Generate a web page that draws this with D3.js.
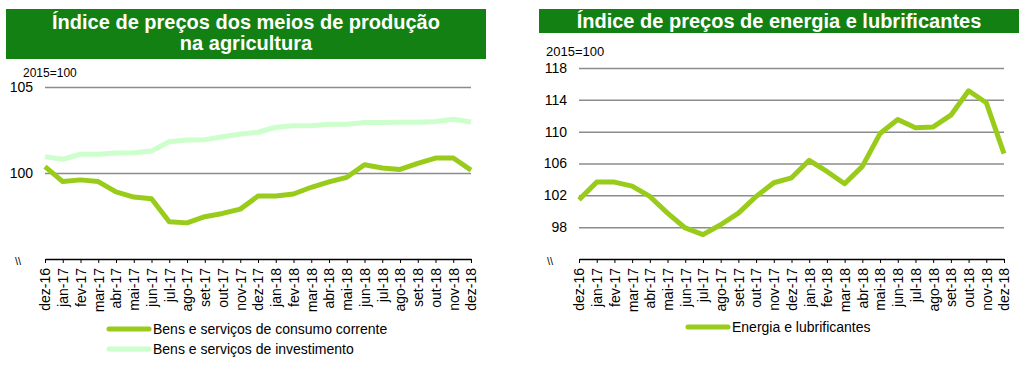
<!DOCTYPE html>
<html lang="pt">
<head>
    <meta charset="UTF-8">
    <title>Índices de preços</title>
    <script src="https://d3js.org/d3.v7.min.js"></script>
    <style>
        body { margin: 0; background: #fff; }
        text { font-family: "Liberation Sans", Arial, sans-serif; }
    </style>
</head>
<body>
    <div id="chart"></div>
    <script>
        var months = ["dez-16", "jan-17", "fev-17", "mar-17", "abr-17", "mai-17", "jun-17", "jul-17", "ago-17",
            "set-17", "out-17", "nov-17", "dez-17", "jan-18", "fev-18", "mar-18", "abr-18", "mai-18", "jun-18",
            "jul-18", "ago-18", "set-18", "out-18", "nov-18", "dez-18"];

        var consumoCorrente = [100.37, 99.5, 99.6, 99.5, 98.9, 98.6, 98.5, 97.17, 97.1, 97.46, 97.65, 97.9, 98.66,
            98.66, 98.78, 99.17, 99.48, 99.75, 100.48, 100.29, 100.21, 100.56, 100.87, 100.87, 100.17];
        var investimento = [100.95, 100.8, 101.09, 101.09, 101.16, 101.18, 101.28, 101.82, 101.92, 101.94, 102.11,
            102.27, 102.37, 102.66, 102.75, 102.75, 102.83, 102.83, 102.93, 102.93, 102.95, 102.95, 103.0, 103.12, 102.97];
        var energia = [101.44, 103.66, 103.66, 103.16, 101.86, 99.76, 97.9, 97.07, 98.3, 99.76, 101.86, 103.58, 104.2,
            106.4, 105.0, 103.46, 105.64, 109.76, 111.53, 110.48, 110.6, 112.07, 115.14, 113.63, 107.24];

        var leftTicks = [100, 105];
        var rightTicks = [98, 102, 106, 110, 114, 118];

        var dark = "#99cc1a", light = "#ccffcc", titleBg = "#138013";

        var svg = d3.select("#chart").append("svg")
            .attr("width", 1025)
            .attr("height", 374);

        function panel(opt) {
            var g = svg.append("g");

            // title box
            g.append("rect")
                .attr("x", opt.box[0]).attr("y", opt.box[1])
                .attr("width", opt.box[2]).attr("height", opt.box[3])
                .attr("fill", titleBg);
            opt.title.forEach(function (t, i) {
                g.append("text")
                    .attr("x", opt.box[0] + opt.box[2] / 2)
                    .attr("y", opt.titleY + i * 21)
                    .attr("text-anchor", "middle")
                    .attr("fill", "#fff")
                    .attr("font-weight", "bold")
                    .attr("font-size", 20)
                    .text(t);
            });

            var x = d3.scalePoint().domain(months).range([opt.x0, opt.x1]);
            var y = d3.scaleLinear().domain(opt.domain).range([opt.yBottom, opt.yTop]);

            g.append("text")
                .attr("x", opt.unitX).attr("y", opt.unitY)
                .attr("font-size", opt.unitSize)
                .text("2015=100");

            // gridlines + y labels
            var yAxis = g.append("g")
                .attr("transform", "translate(" + opt.x0 + ",0)")
                .call(d3.axisLeft(y).tickValues(opt.ticks).tickSize(-(opt.x1 - opt.x0)).tickPadding(12));
            yAxis.select(".domain").remove();
            yAxis.selectAll("line").attr("stroke", "#8c8c8c").attr("stroke-width", 1.5);
            yAxis.selectAll("text").attr("font-size", 14).attr("fill", "#000")
                .attr("font-family", "Liberation Sans, Arial, sans-serif");

            // x axis
            var xAxis = g.append("g")
                .attr("transform", "translate(0," + opt.yBottom + ")")
                .call(d3.axisBottom(x).tickSize(4).tickSizeOuter(0));
            xAxis.select(".domain").attr("stroke", "#000").attr("stroke-width", 1.5);
            xAxis.selectAll("line").attr("stroke", "#000");
            xAxis.selectAll("text")
                .attr("font-size", 14).attr("fill", "#000")
                .attr("font-family", "Liberation Sans, Arial, sans-serif")
                .attr("transform", "rotate(-90)")
                .attr("text-anchor", "end")
                .attr("x", -9).attr("y", 0).attr("dy", "0.35em");

            // axis break mark
            g.append("text")
                .attr("x", opt.breakX).attr("y", opt.yBottom + 6)
                .attr("font-size", 11)
                .text("\\\\");

            var line = d3.line().x(function (d, i) { return x(months[i]); }).y(function (d) { return y(d); });

            opt.series.forEach(function (s) {
                g.append("path")
                    .datum(s.values)
                    .attr("d", line)
                    .attr("fill", "none")
                    .attr("stroke", s.color)
                    .attr("stroke-width", 5)
                    .attr("stroke-linejoin", "round");
            });

            // legend
            opt.series.forEach(function (s, i) {
                var ly = opt.legendY + i * 20;
                g.append("line")
                    .attr("x1", opt.legendX).attr("x2", opt.legendX + 40)
                    .attr("y1", ly).attr("y2", ly)
                    .attr("stroke", s.color).attr("stroke-width", 5)
                    .attr("stroke-linecap", "round");
                g.append("text")
                    .attr("x", opt.legendX + 44).attr("y", ly + 5)
                    .attr("font-size", 14)
                    .text(s.name);
            });
        }

        panel({
            box: [6, 9, 480, 50], title: ["Índice de preços dos meios de produção", "na agricultura"], titleY: 29,
            x0: 45, x1: 471, yTop: 87, yBottom: 259, domain: [95, 105], ticks: leftTicks,
            unitX: 23, unitY: 77, unitSize: 12, breakX: 15,
            legendX: 109, legendY: 329,
            series: [
                { name: "Bens e serviços de consumo corrente", values: consumoCorrente, color: dark },
                { name: "Bens e serviços de investimento", values: investimento, color: light }
            ]
        });

        panel({
            box: [539, 9, 480, 24], title: ["Índice de preços de energia e lubrificantes"], titleY: 28,
            x0: 579, x1: 1004, yTop: 68, yBottom: 259, domain: [94, 118], ticks: rightTicks,
            unitX: 546, unitY: 56, unitSize: 13, breakX: 547,
            legendX: 688, legendY: 327,
            series: [
                { name: "Energia e lubrificantes", values: energia, color: dark }
            ]
        });
    </script>
</body>
</html>
